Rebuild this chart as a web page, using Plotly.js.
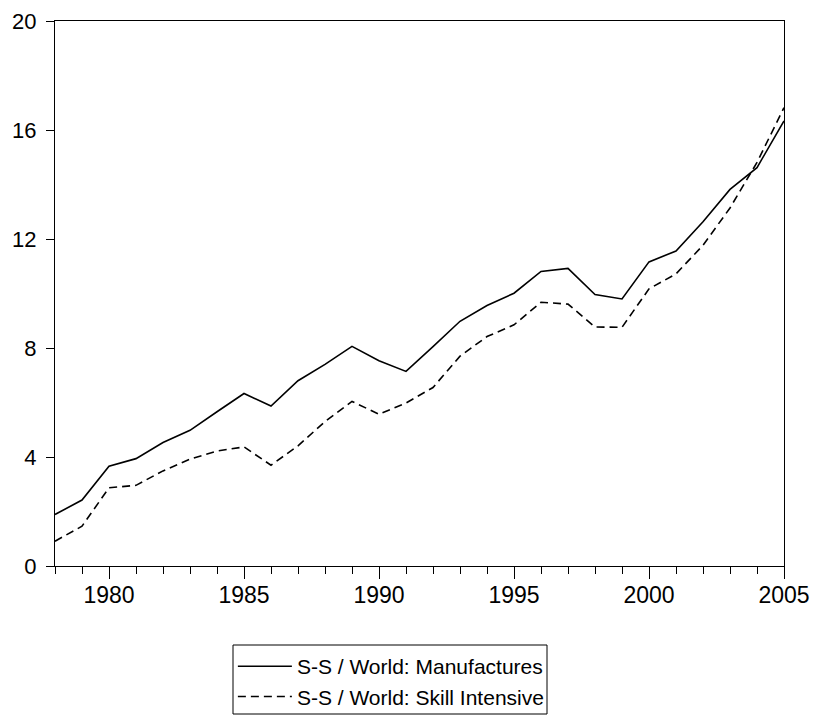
<!DOCTYPE html>
<html>
<head>
<meta charset="utf-8">
<script src="https://cdn.plot.ly/plotly-3.0.1.min.js"></script>
<style>html,body{margin:0;padding:0;background:#fff;}#chart{width:813px;height:715px;}</style>
</head>
<body>
<div id="chart"></div>
<script>
var years = [1978,1979,1980,1981,1982,1983,1984,1985,1986,1987,1988,1989,1990,1991,1992,1993,1994,1995,1996,1997,1998,1999,2000,2001,2002,2003,2004,2005];
var manufactures = [1.89,2.42,3.66,3.94,4.53,4.98,5.66,6.33,5.87,6.80,7.40,8.06,7.53,7.14,8.05,8.98,9.56,10.01,10.81,10.92,9.96,9.80,11.16,11.56,12.63,13.82,14.62,16.33];
var skillIntensive = [0.91,1.46,2.87,2.96,3.49,3.92,4.22,4.37,3.70,4.41,5.30,6.04,5.57,5.98,6.55,7.70,8.42,8.85,9.68,9.61,8.77,8.76,10.17,10.72,11.77,13.14,14.81,16.82];
var seriesNames = ["S-S / World: Manufactures", "S-S / World: Skill Intensive"];
var yTicks = [0,4,8,12,16,20];
var xTicks = [1980,1985,1990,1995,2000,2005];

var traces = [
  {x: years, y: manufactures, type: 'scatter', mode: 'lines', name: seriesNames[0],
   line: {color: '#000', width: 1.6}},
  {x: years, y: skillIntensive, type: 'scatter', mode: 'lines', name: seriesNames[1],
   line: {color: '#000', width: 1.6, dash: '8px,5px'}}
];

var layout = {
  width: 813, height: 715,
  margin: {l: 55, r: 29, t: 21, b: 149, autoexpand: false},
  paper_bgcolor: '#fff', plot_bgcolor: '#fff',
  font: {family: 'Liberation Sans, Arial, sans-serif', color: '#000', size: 21},
  showlegend: true,
  legend: {
    x: 0.244, xanchor: 'left', y: -0.147, yanchor: 'top',
    borderwidth: 0, bgcolor: 'rgba(0,0,0,0)',
    itemwidth: 54,
    font: {size: 21, color: '#000'}, tracegroupgap: 0
  },
  shapes: [{
    type: 'rect', xref: 'paper', yref: 'paper',
    x0: (233 - 55) / 729, x1: (547 - 55) / 729,
    y0: (566 - 645) / 545, y1: (566 - 714) / 545,
    line: {color: '#000', width: 1}, fillcolor: 'rgba(0,0,0,0)', layer: 'above'
  }],
  xaxis: {
    range: [1978, 2005], showgrid: false, zeroline: false, automargin: false,
    showline: true, linecolor: '#000', linewidth: 1, mirror: true,
    tickmode: 'array', tickvals: xTicks, ticktext: xTicks.map(String), tickangle: 0,
    ticks: 'outside', ticklen: 12, tickcolor: '#000', tickwidth: 1,
    ticklabelstandoff: -4,
    tickfont: {size: 23, color: '#000'},
    minor: {dtick: 1, tick0: 1978, ticks: 'outside', ticklen: 7, tickcolor: '#000', tickwidth: 1, showgrid: false}
  },
  yaxis: {
    range: [0, 20], showgrid: false, zeroline: false, automargin: false,
    showline: true, linecolor: '#000', linewidth: 1, mirror: true,
    tickmode: 'array', tickvals: yTicks, ticktext: yTicks.map(String),
    ticks: 'outside', ticklen: 8, tickcolor: '#000', tickwidth: 1,
    ticklabelstandoff: 5,
    tickfont: {size: 22, color: '#000'}
  }
};

Plotly.newPlot('chart', traces, layout, {displayModeBar: false, staticPlot: true});
</script>
</body>
</html>
